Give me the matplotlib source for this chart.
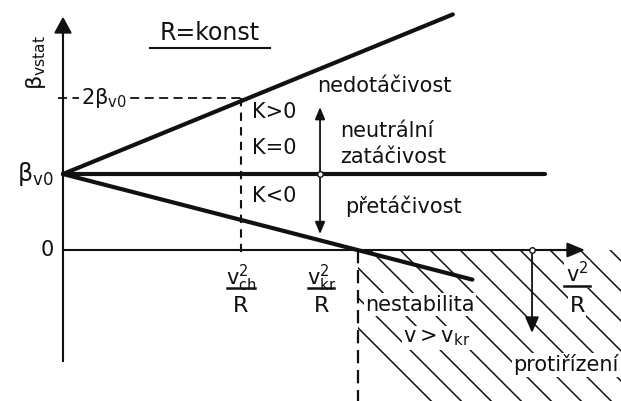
import numpy as np
import matplotlib
matplotlib.use("Agg")
import matplotlib.pyplot as plt
from matplotlib.patches import Rectangle

plt.rcParams["font.family"] = ["DejaVu Sans"]
plt.rcParams["mathtext.fontset"] = "dejavusans"
plt.rcParams["mathtext.default"] = "regular"

# Static sideslip angle vs. lateral acceleration v^2/R (R = const)
beta_v0 = 1.0          # sideslip at low speed
two_beta_v0 = 2.0      # reference level 2*beta_v0
v_ch_sq_R = 1.0        # characteristic speed term v_ch^2/R
v_kr_sq_R = 1.657      # critical speed term v_kr^2/R

# straight characteristics (start / end points)
under_x = [0.0, 2.19]      # K > 0, understeer
under_y = [1.0, 3.10]
neutral_x = [0.0, 2.71]    # K = 0, neutral steer
neutral_y = [1.0, 1.0]
over_x = [0.0, 2.30]       # K < 0, oversteer
over_y = [1.0, -0.39]

fig = plt.figure(figsize=(6.21, 4.01), dpi=100)
ax = fig.add_axes([0, 0, 1, 1])
ax.set_xlim(-0.3539, 3.1348)
ax.set_ylim(-1.9868, 3.2895)
ax.axis("off")

K = "#111111"
lw_axis = 1.5
lw_main = 3.0

# hatched instability region (right of v_kr, below zero)
x_left, x_right = ax.get_xlim()
y_bot, y_top = ax.get_ylim()
clip = Rectangle((v_kr_sq_R, y_bot), x_right - v_kr_sq_R, 0 - y_bot,
                 transform=ax.transData, facecolor="none", edgecolor="none")
ax.add_patch(clip)
k = 178 / 76  # 45 deg on screen
for x0 in np.arange(1.22, 3.6, 0.1685):
    xs = np.array([x0, x0 + 2.2])
    ys = -k * (xs - x0)
    ln, = ax.plot(xs, ys, color=K, lw=1.1, zorder=1)
    ln.set_clip_path(clip)

# axes with arrows
ax.plot([0, 0], [-1.46, 2.95], color=K, lw=lw_axis, zorder=3)
ax.annotate("", xy=(0, 3.07), xytext=(0, 2.8),
            arrowprops=dict(arrowstyle="-|>,head_length=0.55,head_width=0.3",
                            color=K, lw=lw_axis, mutation_scale=18,
                            shrinkA=0, shrinkB=0), zorder=3)
ax.plot([0, 2.85], [0, 0], color=K, lw=lw_axis, zorder=3)
ax.annotate("", xy=(2.933, 0), xytext=(2.7, 0),
            arrowprops=dict(arrowstyle="-|>,head_length=0.6,head_width=0.25",
                            color=K, lw=lw_axis, mutation_scale=18,
                            shrinkA=0, shrinkB=0), zorder=3)

# characteristics
for xs, ys in [(under_x, under_y), (neutral_x, neutral_y), (over_x, over_y)]:
    ax.plot(xs, ys, color=K, lw=lw_main, solid_capstyle="round", zorder=4)

# 2*beta_v0 guide and characteristic / critical speed markers
ax.plot([-0.03, v_ch_sq_R], [two_beta_v0, two_beta_v0], color=K, lw=1.3,
        ls=(0, (5, 3)), zorder=2)
ax.plot([v_ch_sq_R, v_ch_sq_R], [two_beta_v0, -0.07], color=K, lw=1.5,
        ls=(0, (4, 3)), zorder=2)
ax.plot([v_kr_sq_R, v_kr_sq_R], [0, y_bot], color=K, lw=1.6,
        ls=(0, (6, 3)), zorder=2)

# K arrow and counter-steer arrow
ax.annotate("", xy=(1.444, 1.88), xytext=(1.444, 0.21),
            arrowprops=dict(arrowstyle="<|-|>,head_length=0.6,head_width=0.25",
                            color=K, lw=1.3, mutation_scale=12,
                            shrinkA=0, shrinkB=0), zorder=5)
ax.plot([1.444], [beta_v0], marker="o", ms=4, mfc="white", mec=K, mew=1, zorder=6)
ax.annotate("", xy=(2.635, -1.09), xytext=(2.635, 0),
            arrowprops=dict(arrowstyle="-|>,head_length=0.8,head_width=0.35",
                            color=K, lw=1.3, mutation_scale=12,
                            shrinkA=0, shrinkB=0), zorder=5)
ax.plot([2.635], [0], marker="o", ms=4, mfc="white", mec=K, mew=1, zorder=6)

fs = 15
wbox = dict(facecolor="white", edgecolor="none", pad=1.0)

# axis labels
ax.text(-0.15, 2.47, r"$β_{vstat}$", rotation=90, fontsize=fs + 1,
        ha="center", va="center", color=K)
ax.text(-0.055, beta_v0, r"$β_{v0}$", fontsize=fs + 2, ha="right", va="center", color=K)
ax.text(-0.05, 0, "0", fontsize=fs, ha="right", va="center", color=K)
ax.text(0.1, two_beta_v0, r"$2β_{v0}$", fontsize=fs, ha="left", va="center",
        color=K, bbox=wbox, zorder=3)

# title with underline
ax.text(0.826, 2.85, "R=konst", fontsize=fs + 2, ha="center", va="center", color=K)
ax.plot([0.49, 1.163], [2.66, 2.66], color=K, lw=1.5)

# region labels
ax.text(1.062, 1.816, "K>0", fontsize=fs, ha="left", va="center", color=K)
ax.text(1.062, 1.342, "K=0", fontsize=fs, ha="left", va="center", color=K)
ax.text(1.062, 0.71, "K<0", fontsize=fs, ha="left", va="center", color=K)
ax.text(1.43, 2.16, "nedotáčivost", fontsize=fs, ha="left", va="center", color=K)
ax.text(1.556, 1.56, "neutrální", fontsize=fs, ha="left", va="center", color=K)
ax.text(1.556, 1.22, "zatáčivost", fontsize=fs, ha="left", va="center", color=K)
ax.text(1.584, 0.58, "přetáčivost", fontsize=fs, ha="left", va="center", color=K)

# x-axis fractions
def fraction(xc, num, y_num, y_bar, half):
    ax.text(xc, y_num, num, fontsize=fs, ha="center", va="center", color=K,
            bbox=wbox, zorder=3)
    ax.plot([xc - half, xc + half], [y_bar, y_bar], color=K, lw=1.8, zorder=4)
    ax.text(xc, -0.74, "R", fontsize=fs + 1, ha="center", va="center", color=K,
            bbox=wbox, zorder=3)

fraction(v_ch_sq_R, r"$v_{ch}^{2}$", -0.38, -0.5, 0.08)
fraction(1.45, r"$v_{kr}^{2}$", -0.38, -0.5, 0.075)
fraction(2.888, r"$v^{2}$", -0.31, -0.47, 0.075)

# instability region labels
ax.text(1.697, -0.72, "nestabilita", fontsize=fs, ha="left", va="center",
        color=K, bbox=wbox, zorder=3)
ax.text(2.10, -1.16, r"$v > v_{kr}$", fontsize=fs, ha="center", va="center",
        color=K, bbox=wbox, zorder=3)
ax.text(3.12, -1.51, "protiřízení", fontsize=fs, ha="right", va="center",
        color=K, bbox=wbox, zorder=3)

fig.savefig("out.png", dpi=100)
